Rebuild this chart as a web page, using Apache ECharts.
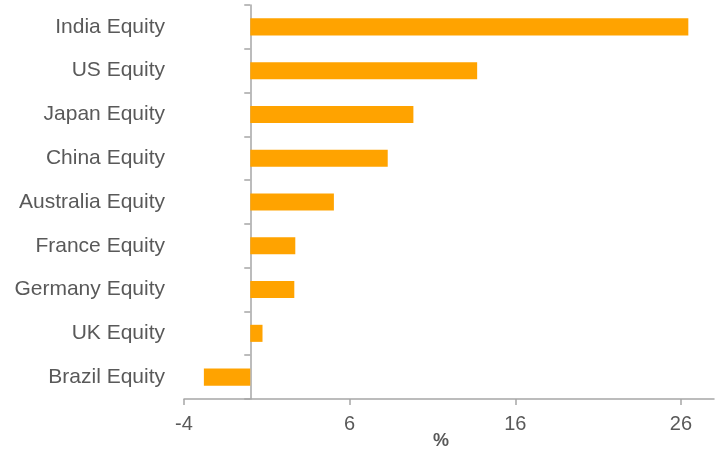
<!DOCTYPE html>
<html>
<head>
<meta charset="utf-8">
<script src="https://cdn.jsdelivr.net/npm/echarts@6/dist/echarts.min.js"></script>
<style>
  html, body { margin: 0; padding: 0; background: #fff; }
  #chart { width: 725px; height: 453px; }
</style>
</head>
<body>
<div id="chart"></div>
<script>
// Equity market returns, %
const categories = [
  'India Equity', 'US Equity', 'Japan Equity', 'China Equity',
  'Australia Equity', 'France Equity', 'Germany Equity', 'UK Equity', 'Brazil Equity'
];
const returns = [26.45, 13.7, 9.85, 8.3, 5.05, 2.72, 2.66, 0.74, -2.8];
const xTicks = [-4, 6, 16, 26];

const axisGray = '#a6a6a6';
const textGray = '#595959';
const font = '"Liberation Sans", Arial, sans-serif';

const chart = echarts.init(document.getElementById('chart'), null, { renderer: 'canvas' });
chart.setOption({
  animation: false,
  grid: { left: 184, right: 11, top: 5, bottom: 54, containLabel: false, outerBoundsMode: 'none' },
  xAxis: {
    type: 'value',
    min: -4,
    max: 28,
    name: '%',
    nameLocation: 'middle',
    nameGap: 33,
    nameMoveOverlap: false,
    nameTextStyle: {
      color: textGray, fontFamily: font, fontSize: 18, fontWeight: 'bold',
      padding: [0, 16, 0, 0]
    },
    splitLine: { show: false },
    axisLine: { show: true, lineStyle: { color: axisGray, width: 1.5 } },
    axisTick: { show: true, length: 6, customValues: xTicks, lineStyle: { color: axisGray, width: 1.5 } },
    axisLabel: {
      customValues: xTicks,
      margin: 15,
      color: textGray, fontFamily: font, fontSize: 20
    }
  },
  yAxis: {
    type: 'category',
    data: categories,
    inverse: true,
    axisLine: { show: true, onZero: true, lineStyle: { color: axisGray, width: 1.5 } },
    axisTick: { show: true, length: 6, lineStyle: { color: axisGray, width: 1.5 } },
    axisLabel: {
      margin: 19,
      color: textGray, fontFamily: font, fontSize: 21
    }
  },
  series: [{
    type: 'bar',
    data: returns,
    barWidth: '39%',
    itemStyle: { color: '#FFA300' }
  }]
});
</script>
</body>
</html>
